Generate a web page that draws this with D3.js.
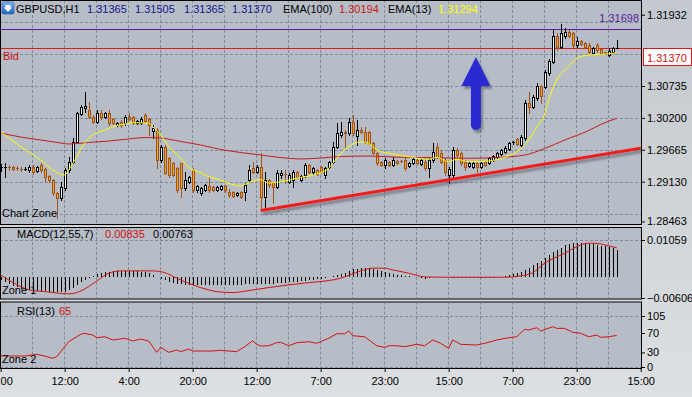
<!DOCTYPE html>
<html><head><meta charset="utf-8">
<script src="https://cdn.jsdelivr.net/npm/d3@7/dist/d3.min.js"></script>
<style>
html,body{margin:0;padding:0;background:#c8cdd2;overflow:hidden}
svg{display:block}
text{font-family:"Liberation Sans",Arial,sans-serif;font-size:11px}
</style></head>
<body>
<svg id="chart" width="692" height="397"></svg>
<script>
// ---------------- DATA ----------------
const symbol = "GBPUSD,H1";
const timeLabels = ["00","12:00","4:00","20:00","12:00","7:00","23:00","15:00","7:00","23:00","15:00"];
const priceTicks = [1.31932,1.30735,1.30200,1.29665,1.29130,1.28463];
const priceGrid  = [1.31805,1.31270,1.30735,1.30200,1.29665,1.29130,1.28595];
const macdTicks  = [0.01059,-0.00606];
const rsiTicks   = [105,70,30,0];

const opens = [
1.29376,1.29376,1.29380,1.29376,1.29362,1.29344,1.29340,1.29325,1.29376,1.29309,
1.29409,1.29342,1.29225,1.29158,1.28940,1.28856,1.29023,1.29325,1.29460,1.29795,
1.30265,1.30374,1.30332,1.30215,1.30131,1.30282,1.30215,1.30282,1.30181,1.30081,
1.30131,1.30114,1.30215,1.30215,1.30114,1.30114,1.30248,1.30181,1.29980,1.29997,
1.29493,1.29711,1.29527,1.29443,1.29359,1.29443,1.29023,1.29124,1.29325,1.28990,
1.28940,1.28990,1.29057,1.29040,1.28990,1.29007,1.29057,1.28956,1.28956,1.28906,
1.28956,1.28956,1.29158,1.29359,1.29292,1.29376,1.28872,1.29158,1.29107,1.29040,
1.29242,1.29262,1.29124,1.29158,1.29292,1.29158,1.29242,1.29409,1.29292,1.29325,
1.29376,1.29242,1.29376,1.29460,1.29711,1.29913,1.29963,1.29946,1.30131,1.29896,
1.29997,1.29963,1.29963,1.29778,1.29611,1.29460,1.29409,1.29460,1.29409,1.29476,
1.29478,1.29493,1.29393,1.29443,1.29493,1.29426,1.29460,1.29359,1.29493,1.29711,
1.29611,1.29493,1.29242,1.29242,1.29661,1.29611,1.29460,1.29393,1.29376,1.29443,
1.29376,1.29460,1.29443,1.29493,1.29544,1.29594,1.29627,1.29678,1.29793,1.29846,
1.29745,1.29862,1.30450,1.30383,1.30534,1.30735,1.30718,1.30953,1.31137,1.31574,
1.31389,1.31574,1.31641,1.31624,1.31423,1.31490,1.31456,1.31423,1.31289,1.31423,
1.31356,1.31300,1.31255,1.31306,1.31365];
const highs = [
1.29426,1.29443,1.29409,1.29393,1.29393,1.29376,1.29376,1.29409,1.29409,1.29393,
1.29443,1.29359,1.29242,1.29174,1.28956,1.29124,1.29359,1.29544,1.29862,1.30299,
1.30416,1.30634,1.30466,1.30248,1.30332,1.30332,1.30299,1.30332,1.30198,1.30131,
1.30164,1.30248,1.30282,1.30232,1.30164,1.30215,1.30282,1.30198,1.30081,1.30030,
1.29745,1.29745,1.29544,1.29460,1.29376,1.29443,1.29292,1.29225,1.29359,1.29074,
1.29040,1.29091,1.29208,1.29057,1.29057,1.29074,1.29074,1.29007,1.28973,1.28956,
1.28973,1.29107,1.29409,1.29460,1.29409,1.29611,1.29292,1.29174,1.29124,1.29325,
1.29325,1.29325,1.29275,1.29325,1.29309,1.29242,1.29443,1.29426,1.29376,1.29342,
1.29393,1.29376,1.29476,1.29795,1.30114,1.30131,1.29997,1.30198,1.30248,1.30164,
1.30047,1.30047,1.29980,1.29795,1.29627,1.29476,1.29527,1.29476,1.29544,1.29493,
1.29493,1.29527,1.29460,1.29527,1.29510,1.29510,1.29527,1.29527,1.29778,1.29778,
1.29661,1.29527,1.29376,1.29711,1.29695,1.29627,1.29493,1.29460,1.29460,1.29460,
1.29460,1.29476,1.29544,1.29577,1.29627,1.29678,1.29728,1.29795,1.29812,1.29862,
1.29913,1.30500,1.30634,1.30584,1.30785,1.30752,1.31003,1.31188,1.31675,1.31624,
1.31775,1.31708,1.31675,1.31641,1.31557,1.31507,1.31473,1.31456,1.31389,1.31456,
1.31373,1.31314,1.31373,1.31389,1.31505];
const lows = [
1.29309,1.29208,1.29325,1.29325,1.29325,1.29309,1.29325,1.29292,1.29258,1.29292,
1.29292,1.29124,1.29124,1.28906,1.28520,1.28822,1.28990,1.29292,1.29443,1.29778,
1.30248,1.30299,1.30198,1.30114,1.30114,1.30181,1.30198,1.30081,1.30097,1.30064,
1.30047,1.30081,1.30164,1.30097,1.30097,1.30097,1.30131,1.29913,1.29862,1.29359,
1.29460,1.29258,1.29208,1.29225,1.28956,1.28872,1.28990,1.29107,1.28956,1.28956,
1.28906,1.28973,1.28956,1.28973,1.28973,1.28990,1.28956,1.28872,1.28872,1.28889,
1.28856,1.28822,1.29124,1.29275,1.29275,1.28654,1.28688,1.29040,1.28772,1.29023,
1.29191,1.29107,1.29107,1.29040,1.29191,1.29141,1.29208,1.29275,1.29258,1.29242,
1.29275,1.29191,1.29359,1.29443,1.29695,1.29879,1.29711,1.29913,1.29913,1.29745,
1.29946,1.29778,1.29762,1.29594,1.29409,1.29393,1.29359,1.29393,1.29393,1.29426,
1.29460,1.29325,1.29376,1.29426,1.29426,1.29409,1.29325,1.29208,1.29460,1.29527,
1.29443,1.29242,1.29107,1.29191,1.29544,1.29409,1.29325,1.29376,1.29359,1.29292,
1.29359,1.29393,1.29426,1.29476,1.29527,1.29577,1.29611,1.29661,1.29770,1.29745,
1.29711,1.29828,1.30282,1.30366,1.30500,1.30450,1.30701,1.30919,1.31120,1.31339,
1.31372,1.31540,1.31557,1.31389,1.31389,1.31423,1.31373,1.31289,1.31272,1.31306,
1.31272,1.31281,1.31238,1.31289,1.31365];
const closes = [
1.29376,1.29380,1.29372,1.29342,1.29357,1.29340,1.29344,1.29376,1.29292,1.29376,
1.29325,1.29208,1.29158,1.28940,1.28856,1.29040,1.29325,1.29460,1.29795,1.30282,
1.30383,1.30399,1.30215,1.30131,1.30282,1.30215,1.30282,1.30114,1.30114,1.30114,
1.30081,1.30215,1.30181,1.30114,1.30148,1.30181,1.30148,1.30081,1.30030,1.29493,
1.29711,1.29275,1.29242,1.29242,1.28990,1.29023,1.29158,1.29208,1.28990,1.29057,
1.29023,1.29074,1.28990,1.28990,1.29040,1.29057,1.28990,1.28906,1.28889,1.28940,
1.28872,1.29074,1.29325,1.29292,1.29376,1.28872,1.29158,1.29074,1.29040,1.29275,
1.29275,1.29255,1.29242,1.29292,1.29208,1.29225,1.29409,1.29292,1.29359,1.29258,
1.29292,1.29359,1.29460,1.29711,1.29946,1.29963,1.29946,1.30131,1.29946,1.29997,
1.29963,1.29795,1.29778,1.29611,1.29443,1.29409,1.29493,1.29409,1.29493,1.29443,
1.29474,1.29359,1.29443,1.29510,1.29443,1.29493,1.29359,1.29493,1.29627,1.29544,
1.29460,1.29292,1.29342,1.29661,1.29577,1.29443,1.29376,1.29443,1.29443,1.29376,
1.29443,1.29409,1.29527,1.29560,1.29611,1.29661,1.29695,1.29778,1.29797,1.29762,
1.29879,1.30450,1.30383,1.30550,1.30735,1.30567,1.30970,1.31154,1.31574,1.31389,
1.31624,1.31641,1.31574,1.31423,1.31490,1.31440,1.31389,1.31306,1.31373,1.31339,
1.31289,1.31297,1.31322,1.31373,1.31370];

// EMA(13) read at sampled bars
const ema13Bars = [0,5,10,13,16,17,19,21,23,26,28,31,33,37,38,40,42,45,47,50,52,55,57,60,62,65,67,71,75,79,82,84,87,90,92,94,97,102,107,109,112,114,117,122,126,129,132,134,136,137,139,142,144,147,150,153,154];
const ema13Vals = [1.29968,1.29717,1.29493,1.29326,1.29242,1.29326,1.29549,1.29779,1.29913,1.29997,1.30052,1.30097,1.30119,1.30109,1.30052,1.29913,1.29717,1.29527,1.29371,1.29280,1.29213,1.29158,1.29102,1.29057,1.29116,1.29163,1.29107,1.29141,1.29203,1.29258,1.29354,1.29522,1.29717,1.29800,1.29774,1.29661,1.29606,1.29549,1.29505,1.29539,1.29465,1.29505,1.29465,1.29477,1.29539,1.29633,1.29829,1.30047,1.30265,1.30500,1.30836,1.31059,1.31200,1.31255,1.31267,1.31284,1.31294];
// EMA(100) read at sampled bars
const ema100Bars = [0,5,10,15,17,22,27,32,36,40,45,50,55,60,65,70,75,80,85,92,100,108,117,125,131,136,141,147,150,154];
const ema100Vals = [1.29946,1.29879,1.29829,1.29779,1.29762,1.29787,1.29812,1.29846,1.29871,1.29862,1.29804,1.29745,1.29670,1.29619,1.29577,1.29535,1.29510,1.29527,1.29552,1.29560,1.29539,1.29532,1.29522,1.29539,1.29577,1.29686,1.29829,1.29988,1.30089,1.30194];

// MACD(12,55,7) main histogram, one value per bar
const macdMain = [
-0.00086,-0.00144,-0.00201,-0.00258,-0.00301,-0.00345,-0.00373,-0.00388,-0.00402,-0.00402,
-0.00402,-0.00416,-0.00431,-0.00445,-0.00445,-0.00445,-0.00431,-0.00388,-0.00316,-0.00230,
-0.00158,-0.00086,-0.00029,0.00029,0.00072,0.00100,0.00129,0.00144,0.00158,0.00158,
0.00158,0.00158,0.00158,0.00158,0.00158,0.00144,0.00129,0.00100,0.00057,0.00000,
-0.00057,-0.00100,-0.00144,-0.00172,-0.00201,-0.00215,-0.00230,-0.00230,-0.00230,-0.00230,
-0.00230,-0.00230,-0.00230,-0.00230,-0.00230,-0.00230,-0.00230,-0.00230,-0.00230,-0.00230,
-0.00230,-0.00215,-0.00201,-0.00201,-0.00201,-0.00215,-0.00215,-0.00201,-0.00201,-0.00187,
-0.00172,-0.00172,-0.00158,-0.00144,-0.00144,-0.00129,-0.00115,-0.00100,-0.00086,-0.00072,
-0.00057,-0.00043,-0.00014,0.00014,0.00057,0.00086,0.00115,0.00172,0.00215,0.00238,
0.00250,0.00258,0.00258,0.00238,0.00201,0.00172,0.00135,0.00106,0.00086,0.00066,
0.00049,0.00037,0.00029,0.00009,-0.00009,-0.00037,-0.00049,-0.00037,-0.00014,-0.00009,
-0.00009,-0.00009,-0.00009,-0.00029,-0.00037,-0.00037,-0.00037,-0.00037,-0.00037,-0.00037,
-0.00037,-0.00029,-0.00029,-0.00020,-0.00009,0.00009,0.00037,0.00057,0.00086,0.00106,
0.00152,0.00201,0.00250,0.00345,0.00411,0.00468,0.00537,0.00632,0.00709,0.00775,
0.00841,0.00910,0.00947,0.00968,0.00976,0.00976,0.00968,0.00947,0.00939,0.00919,
0.00899,0.00881,0.00861,0.00833,0.00763];
// MACD signal line read at sampled bars
const signalBars = [0,8,11,17,19,22,25,27,30,38,41,44,48,52,54,58,62,67,72,77,82,85,90,93,96,98,102,106,110,126,130,133,136,141,145,147,150,151,154];
const signalVals = [0.00057,-0.00393,-0.00422,-0.00488,-0.00451,-0.00278,-0.00037,0.00106,0.00172,0.00172,0.00123,-0.00037,-0.00230,-0.00373,-0.00422,-0.00451,-0.00393,-0.00307,-0.00230,-0.00164,-0.00106,-0.00037,0.00172,0.00250,0.00250,0.00201,0.00106,0.00000,-0.00009,-0.00009,0.00029,0.00123,0.00393,0.00680,0.00919,0.00968,0.00947,0.00919,0.00835];

// RSI(13) read at sampled bars
const rsiBars = [0,6,9,11,13,14,16,17,20,21,23,24,26,27,28,31,33,35,37,38,39,40,42,44,45,47,48,53,55,57,59,61,63,64,65,67,69,70,72,74,77,79,82,84,86,87,88,91,94,96,97,99,101,104,106,108,110,112,113,115,119,121,124,127,129,131,132,134,135,138,139,141,143,145,147,149,150,152,154];
const rsiVals = [22.6,22.6,26.1,22.6,17.9,21.2,41.8,52.1,67.3,69.3,65.8,60.3,62.3,59.1,55.6,59.1,53.5,57.6,53.5,41.8,30.2,40.5,30.2,35,31.5,37,32.9,32.9,34.4,32.9,31.5,41.8,54.1,46.7,43.2,43.8,50,50.8,43.8,50,52.1,48.8,59.1,68.5,68.5,74.1,64.4,62.3,43.8,40.5,43.8,43.8,41.8,46.7,43.8,55.6,48.8,38.5,55.6,46.7,45.3,48.8,55.6,60.3,62.3,77.6,76.1,80.9,74.1,82.9,79.6,79.6,71.4,69.3,62.3,65.8,61.1,62.3,65];

// Chart objects (bar index / price anchors)
const hLinePrice = 1.31698;           // purple horizontal line
const resistance = {from:127.5, to:160, price:1.31698};
const trendLine = {b1:65, p1:1.28646, b2:160, p2:1.29690};
const arrowObj = {bar:118.8, tip:1.31222, base:1.29997};

// ---------------- SCALES ----------------
const svg = d3.select('#chart');
const PR = 641;
const P = {main:[0,224], macd:[227,298.5], rsi:[301.5,368]};
const x  = d3.scaleLinear().domain([0,160]).range([0.7,640.7]);
const yP = d3.scaleLinear().domain([1.28463,1.31932]).range([221.4,14.7]);
const yM = d3.scaleLinear().domain([-0.00606,0.01059]).range([298,240]);
const yR = d3.scaleLinear().domain([0,105]).range([367,316]);
const f5 = d3.format('.5f');
const n = opens.length, last = n-1;

const defs = svg.append('defs');
const bgG = defs.append('linearGradient').attr('id','bg').attr('x1',0).attr('y1',0).attr('x2',0).attr('y2',1);
bgG.append('stop').attr('offset','0%').attr('stop-color','#c2c8ce');
bgG.append('stop').attr('offset','100%').attr('stop-color','#dde0e2');
const sh = defs.append('filter').attr('id','sh').attr('x','-30%').attr('y','-30%').attr('width','160%').attr('height','160%');
sh.append('feDropShadow').attr('dx',2).attr('dy',3).attr('stdDeviation',1.3).attr('flood-color','#3c4048').attr('flood-opacity',0.5);
const ic = defs.append('linearGradient').attr('id','ic').attr('x1',0).attr('y1',0).attr('x2',0).attr('y2',1);
ic.append('stop').attr('offset','0%').attr('stop-color','#7db4f0');
ic.append('stop').attr('offset','100%').attr('stop-color','#1f63c4');

svg.append('rect').attr('width',692).attr('height',397).attr('fill','url(#bg)');

Object.entries(P).forEach(([k,[t,b]])=>{
  defs.append('clipPath').attr('id','clip-'+k).append('rect').attr('x',1).attr('y',t+1).attr('width',PR-1).attr('height',b-t-1);
  svg.append('rect').attr('x',0.5).attr('y',t+0.5).attr('width',PR).attr('height',b-t)
    .attr('fill','#b6bdc7').attr('stroke','#000').attr('stroke-width',1);
});

// grid
const gridC = '#7f8b9b';
Object.entries(P).forEach(([k,[t,b]])=>{
  const g = svg.append('g').attr('clip-path','url(#clip-'+k+')');
  d3.range(8,160,8).forEach(bi=>{
    const gx = Math.floor(x(bi))+0.5;
    g.append('line').attr('x1',gx).attr('x2',gx).attr('y1',t).attr('y2',b)
      .attr('stroke',gridC).attr('stroke-dasharray','3,2');
  });
});
const gMain = svg.append('g').attr('clip-path','url(#clip-main)');
priceGrid.forEach(p=>{
  const gy = Math.round(yP(p))+0.5;
  gMain.append('line').attr('x1',0).attr('x2',PR).attr('y1',gy).attr('y2',gy).attr('stroke',gridC).attr('stroke-dasharray','3,2');
});
const gMacd = svg.append('g').attr('clip-path','url(#clip-macd)');
gMacd.append('line').attr('x1',0).attr('x2',PR).attr('y1',Math.round(yM(macdTicks[0]))+0.5).attr('y2',Math.round(yM(macdTicks[0]))+0.5).attr('stroke',gridC).attr('stroke-dasharray','3,2');
const gRsi = svg.append('g').attr('clip-path','url(#clip-rsi)');
[105,0].forEach(v=>{
  const gy = Math.round(yR(v))+0.5;
  gRsi.append('line').attr('x1',0).attr('x2',PR).attr('y1',gy).attr('y2',gy).attr('stroke',gridC).attr('stroke-dasharray','3,2');
});

// horizontal purple line + bid line
const yH = Math.round(yP(hLinePrice))+0.5;
gMain.append('line').attr('x1',0).attr('x2',PR).attr('y1',yH).attr('y2',yH).attr('stroke','#5a1aa0').attr('stroke-width',1.2);
const yBid = Math.round(yP(closes[last]))+0.5;
gMain.append('line').attr('x1',0).attr('x2',PR).attr('y1',yBid).attr('y2',yBid).attr('stroke','#e01818');

// candles
const bull='#000', bear='#a4521c';
d3.range(n).forEach(i=>{
  const cx = Math.round(x(i));
  const yo=yP(opens[i]), yc=yP(closes[i]);
  const up = closes[i] >= opens[i];
  const edge = up?bull:bear;
  gMain.append('rect').attr('x',cx).attr('y',Math.round(yP(highs[i]))).attr('width',1)
    .attr('height',Math.max(1,Math.round(yP(lows[i]))-Math.round(yP(highs[i]))+1)).attr('fill',edge);
  const top=Math.round(Math.min(yo,yc)), bot=Math.round(Math.max(yo,yc));
  gMain.append('rect').attr('x',cx-1).attr('y',top).attr('width',3).attr('height',Math.max(1,bot-top+1)).attr('fill',edge);
  if(bot-top>=2) gMain.append('rect').attr('x',cx).attr('y',top+1).attr('width',1).attr('height',bot-top-1).attr('fill',up?'#f2fcff':'#eaa820');
});

// EMAs
const lineGen = (xs,ys,sy)=>d3.line().x(d=>x(xs[d])).y(d=>sy(ys[d])).curve(d3.curveMonotoneX)(d3.range(xs.length));
gMain.append('path').attr('d',lineGen(ema100Bars,ema100Vals,yP)).attr('fill','none').attr('stroke','#c41c1c').attr('stroke-width',1);
gMain.append('path').attr('d',lineGen(ema13Bars,ema13Vals,yP)).attr('fill','none').attr('stroke','#ffff00').attr('stroke-width',1);

// trend line, resistance, arrow
gMain.append('line').attr('x1',x(trendLine.b1)).attr('y1',yP(trendLine.p1)).attr('x2',x(trendLine.b2)).attr('y2',yP(trendLine.p2))
  .attr('stroke','#f01e1e').attr('stroke-width',3).attr('filter','url(#sh)');
gMain.append('line').attr('x1',x(resistance.from)).attr('x2',x(resistance.to)).attr('y1',yP(resistance.price)).attr('y2',yP(resistance.price))
  .attr('stroke','#f01e1e').attr('stroke-width',3).attr('filter','url(#sh)');
{
  const ax=x(arrowObj.bar), t=yP(arrowObj.tip), bse=yP(arrowObj.base);
  const hh=29, hw=14.5, sw=5;
  const d=`M${ax},${t} L${ax+hw},${t+hh} L${ax+sw},${t+hh} L${ax+sw},${bse-sw} A${sw},${sw} 0 0 1 ${ax-sw},${bse-sw} L${ax-sw},${t+hh} L${ax-hw},${t+hh} Z`;
  gMain.append('path').attr('d',d).attr('fill','#2a2ad2').attr('filter','url(#sh)');
}

// MACD histogram + signal
const z0 = yM(0);
d3.range(n).forEach(i=>{
  const cx = Math.round(x(i))+0.5;
  gMacd.append('line').attr('x1',cx).attr('x2',cx).attr('y1',Math.round(z0)).attr('y2',Math.round(yM(macdMain[i]))).attr('stroke','#000');
});
gMacd.append('path').attr('d',d3.line().x(d=>x(signalBars[d])).y(d=>yM(signalVals[d])).curve(d3.curveMonotoneX)(d3.range(signalBars.length)))
  .attr('fill','none').attr('stroke','#d41010');

// RSI
gRsi.append('path').attr('d',d3.line().x(d=>x(rsiBars[d])).y(d=>yR(rsiVals[d]))(d3.range(rsiBars.length)))
  .attr('fill','none').attr('stroke','#d41010');

// ---------------- AXES ----------------
function styleAxis(g){ g.select('.domain').remove(); g.selectAll('line').attr('stroke','#000'); g.selectAll('text').attr('fill','#000').style('font-size','11px').style('font-family','"Liberation Sans",Arial,sans-serif'); }
svg.append('g').attr('transform',`translate(${PR},0)`).call(d3.axisRight(yP).tickValues(priceTicks).tickSize(4).tickPadding(2).tickFormat(f5)).call(styleAxis);
svg.append('g').attr('transform',`translate(${PR},0)`).call(d3.axisRight(yM).tickValues(macdTicks).tickSize(4).tickPadding(2).tickFormat(f5)).call(styleAxis);
svg.append('g').attr('transform',`translate(${PR},0)`).call(d3.axisRight(yR).tickValues(rsiTicks).tickSize(4).tickPadding(2).tickFormat(d3.format('d'))).call(styleAxis);
const xAxisG = svg.append('g').attr('transform',`translate(0,${P.rsi[1]})`)
  .call(d3.axisBottom(x).tickValues(d3.range(0,161,16)).tickSize(4).tickPadding(5).tickFormat((d,i)=>timeLabels[i])).call(styleAxis);
// first label is only partly visible at the left edge in the original: keep it inside the frame
xAxisG.selectAll('.tick').filter((d,i)=>i===0).select('text').attr('text-anchor','start').attr('x',-0.7);

// bid price box
svg.append('rect').attr('x',643.5).attr('y',yBid).attr('width',48).attr('height',17).attr('fill','#fff').attr('stroke','#e01818');
svg.append('text').attr('x',647).attr('y',yBid+13).attr('fill','#d01010').text(f5(closes[last]));

// ---------------- TEXTS ----------------
const T = (tx,ty,s,c,anchor)=>svg.append('text').attr('x',tx).attr('y',ty).attr('fill',c||'#000').attr('text-anchor',anchor||'start').text(s);
// header
svg.append('rect').attr('x',2).attr('y',2).attr('width',12).attr('height',12).attr('rx',1.5).attr('fill','url(#ic)').attr('stroke','#2c5fa8').attr('stroke-width',0.6);
svg.append('path').attr('d','M5.5,5 L10.5,5 L10.5,7.5 L12,7.5 L8,12 L4,7.5 L5.5,7.5 Z').attr('fill','#fff');
const hy = 13;
T(16,hy,symbol,'#000');
const navy='#14148c';
T(87,hy,f5(opens[last]),navy);
T(135,hy,f5(highs[last]),navy);
T(184,hy,f5(lows[last]),navy);
T(232,hy,f5(closes[last]),navy);
T(283,hy,'EMA(100)','#000');
T(339,hy,f5(ema100Vals[ema100Vals.length-1]),'#c81818');
T(388,hy,'EMA(13)','#000');
T(438,hy,f5(ema13Vals[ema13Vals.length-1]),'#ffff00');
T(639,22,f5(hLinePrice),'#5a1aa0','end');
T(3,60,'Bid','#d01010');
T(2,217,'Chart Zone','#000');
// MACD
T(17,238,'MACD(12,55,7)','#000');
T(105,238,f5(signalVals[signalVals.length-1]),'#d01010');
T(153,238,f5(macdMain[last]),'#000');
T(2,294,'Zone 1','#000');
// RSI
T(17,315,'RSI(13)','#000');
T(59,315,d3.format('d')(rsiVals[rsiVals.length-1]),'#d01010');
T(2,363,'Zone 2','#000');
</script>
</body></html>
